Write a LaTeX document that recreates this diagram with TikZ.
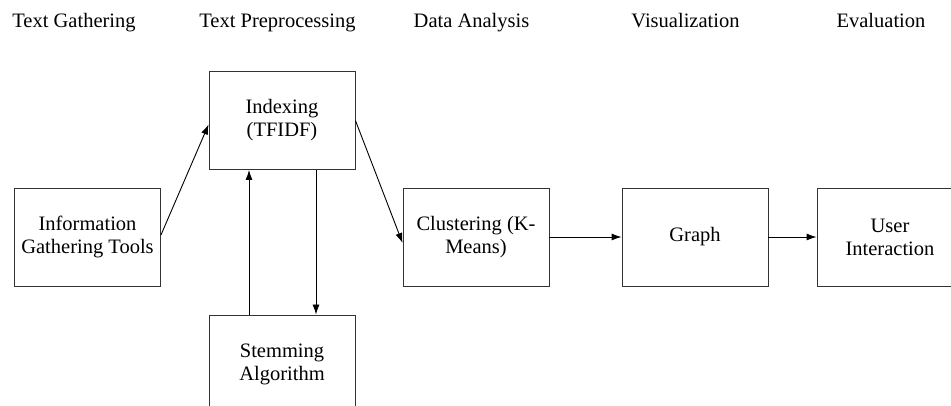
\documentclass[tikz,border=0pt]{standalone}
\usepackage{fontspec}
\setmainfont{Liberation Serif}
\usetikzlibrary{arrows.meta}
\tikzset{
  stage/.style={draw=black!80, line width=0.9pt, rectangle, minimum width=146pt,
    minimum height=98pt, align=center, inner sep=0pt,
    font=\fontsize{20.5pt}{23pt}\selectfont},
  phase/.style={anchor=base, inner sep=0pt, font=\fontsize{20.5pt}{23pt}\selectfont},
  flow/.style={draw=black, line width=0.9pt, -{Latex[length=10pt,width=7pt]}}
}
\begin{document}
\begin{tikzpicture}[x=1pt, y=-1pt]
\useasboundingbox (0,0) rectangle (951,406);
\clip (0,0) rectangle (951,406);

% phase headings
\node[phase] (h1) at (74,28) {Text Gathering};
\node[phase] (h2) at (277.5,28) {Text Preprocessing};
\node[phase] (h3) at (471.5,28) {Data Analysis};
\node[phase] (h4) at (685.5,28) {Visualization};
\node[phase] (h5) at (881,28) {Evaluation};

% process boxes
\node[stage] (info)  at (87.5,237) {Information\\Gathering Tools};
\node[stage] (index) at (282,120.5) {Indexing\\(TFIDF)};
\node[stage] (stem)  at (282,364) {Stemming\\Algorithm};
\node[stage] (clust) at (476,237) {Clustering (K-\\Means)};
\node[stage] (graph) at (695,237) {Graph};
\node[stage] (user)  at (890,237) {User\\Interaction};

% connectors
\draw[flow] ([yshift=2pt]info.east) -- ([yshift=-4pt]index.west);
\draw[flow] (index.east) -- ([yshift=-6pt]clust.west);
\draw[flow] (clust.east) -- (graph.west);
\draw[flow] (graph.east) -- (user.west);
\draw[flow] ([xshift=-33pt]stem.north) -- ([xshift=-33pt]index.south);
\draw[flow] ([xshift=34pt]index.south) -- ([xshift=34pt]stem.north);
\end{tikzpicture}
\end{document}
